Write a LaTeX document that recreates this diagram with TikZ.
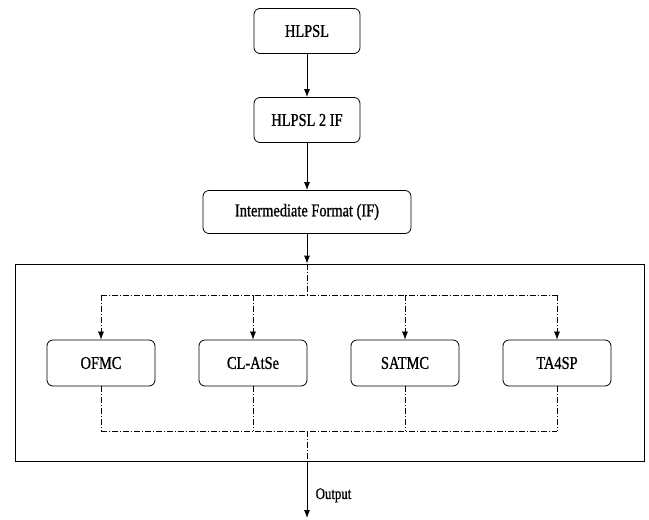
\documentclass[tikz,border=0pt]{standalone}
\usepackage{fontspec}
\setmainfont{Liberation Serif}[FakeStretch=0.8,FakeBold=1]
\usetikzlibrary{arrows.meta}

\begin{document}
\begin{tikzpicture}[x=1pt,y=-1pt,font=\fontsize{18}{20}\selectfont]
    \tikzstyle{tool}=[draw,rounded corners=6pt,line width=0.8pt,minimum width=108pt,minimum height=46pt,inner sep=0pt]
    \tikzstyle{flow}=[line width=0.8pt,-{Latex[length=8pt,width=6pt]}]
    \tikzstyle{dashdot line}=[line width=0.7pt,dash pattern=on 6pt off 2pt on 1pt off 2pt]
    \tikzstyle{dashdot flow}=[flow,dashdot line]
    \useasboundingbox (0,0) rectangle (649,520);
    \node[tool,minimum width=106pt,minimum height=45pt] (hlpsl) at (307,31) {HLPSL};
    \node[tool,minimum width=106pt,minimum height=45pt] (hlpsl2if) at (307,120) {HLPSL 2 IF};
    \node[tool,minimum width=208pt,minimum height=43pt] (ifmt) at (307,212) {Intermediate Format (IF)};
    \node[draw,line width=0.8pt,minimum width=629pt,minimum height=197pt,inner sep=0pt] (checkers) at (329.5,362.5) {};
    \node[tool] (ofmc) at (101,363) {OFMC};
    \node[tool] (clatse) at (253,363) {CL-AtSe};
    \node[tool] (satmc) at (405,363) {SATMC};
    \node[tool] (tasp) at (557,363) {TA4SP};
    \coordinate (split) at (307,295);
    \coordinate (join) at (307,431);
    \coordinate (out) at (307,518);
    \draw[flow] (hlpsl) -- (hlpsl2if);
    \draw[flow] (hlpsl2if) -- (ifmt);
    \draw[flow] (ifmt.south) -- (ifmt.south |- checkers.north);
    \draw[dashdot line] (ifmt.south |- checkers.north) -- (split);
    \draw[dashdot line] (ofmc |- split) -- (tasp |- split);
    \foreach \t in {ofmc,clatse,satmc,tasp} {
        \draw[dashdot flow] (\t |- split) -- (\t.north);
        \draw[dashdot line] (\t.south) -- (\t |- join);
    }
    \draw[dashdot line] (ofmc |- join) -- (tasp |- join);
    \draw[dashdot line] (join) -- (join |- checkers.south);
    \draw[flow] (join |- checkers.south) -- (out)
        node[right,pos=0.6,xshift=5pt,font=\fontsize{16}{18}\selectfont] {Output};
\end{tikzpicture}
\end{document}
